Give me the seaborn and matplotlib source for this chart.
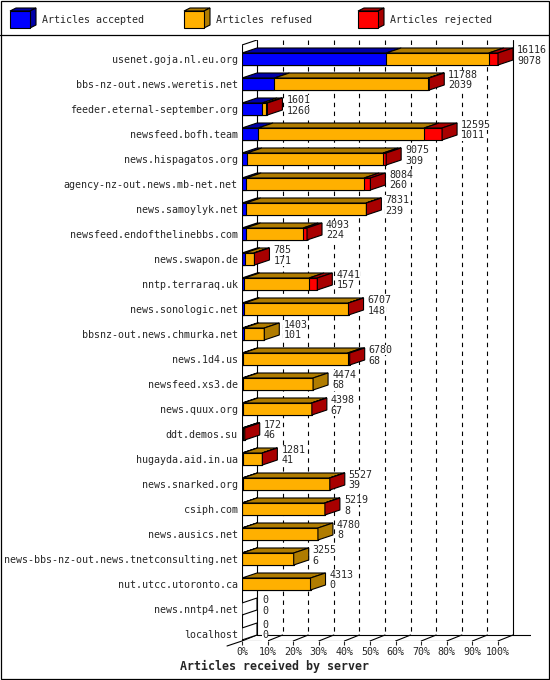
import matplotlib
matplotlib.use("Agg")
import matplotlib.pyplot as plt
from matplotlib.patches import Polygon, Rectangle
import pandas as pd
import seaborn as sns

# servers, top to bottom
servers = [
    "usenet.goja.nl.eu.org", "bbs-nz-out.news.weretis.net", "feeder.eternal-september.org",
    "newsfeed.bofh.team", "news.hispagatos.org", "agency-nz-out.news.mb-net.net",
    "news.samoylyk.net", "newsfeed.endofthelinebbs.com", "news.swapon.de", "nntp.terraraq.uk",
    "news.sonologic.net", "bbsnz-out.news.chmurka.net", "news.1d4.us", "newsfeed.xs3.de",
    "news.quux.org", "ddt.demos.su", "hugayda.aid.in.ua", "news.snarked.org", "csiph.com",
    "news.ausics.net", "news-bbs-nz-out.news.tnetconsulting.net", "nut.utcc.utoronto.ca",
    "news.nntp4.net", "localhost",
]
offered = [16116, 11788, 1601, 12595, 9075, 8084, 7831, 4093, 785, 4741, 6707, 1403,
           6780, 4474, 4398, 172, 1281, 5527, 5219, 4780, 3255, 4313, 0, 0]
accepted = [9078, 2039, 1260, 1011, 309, 260, 239, 224, 171, 157, 148, 101,
            68, 68, 67, 46, 41, 39, 8, 8, 6, 0, 0, 0]
# refused / rejected read off the bar segments (estimates)
refused = [6458, 9689, 278, 10450, 8576, 7424, 7572, 3619, 574, 4064, 6549, 1302,
           6582, 4406, 4311, 116, 1230, 5473, 5196, 4772, 3249, 4313, 0, 0]
rejected = [580, 60, 63, 1134, 190, 400, 20, 250, 40, 520, 10, 0,
            130, 0, 20, 10, 10, 15, 15, 0, 0, 0, 0, 0]

legend_labels = ["Articles accepted", "Articles refused", "Articles rejected"]
front_colors = ["#0000ff", "#ffb000", "#ff0000"]
dark_colors = ["#0000a8", "#b07c00", "#a80000"]

df = pd.DataFrame({"server": servers, "offered": offered, "accepted": accepted,
                   "refused": refused, "rejected": rejected})
scale = 100 / df["offered"].max()
df["acc_pct"] = df["accepted"] * scale
df["ref_pct"] = (df["accepted"] + df["refused"]) * scale
df["tot_pct"] = (df["accepted"] + df["refused"] + df["rejected"]) * scale

sns.set_style("white")
plt.rcParams["font.family"] = ["DejaVu Sans Mono"]
plt.rcParams["font.size"] = 7.2

fig = plt.figure(figsize=(5.5, 6.8), dpi=100)

# frame + legend, drawn in pixel coordinates
bg = fig.add_axes([0, 0, 1, 1])
bg.set_xlim(0, 550)
bg.set_ylim(680, 0)
bg.axis("off")
bg.add_patch(Rectangle((0.5, 0.5), 548.5, 678.5, fill=False, lw=0.9, ec="black"))
bg.plot([0, 550], [34.5, 34.5], color="black", lw=0.9)
for k, x0 in enumerate([10, 184, 358]):
    bg.add_patch(Polygon([(x0, 11), (x0 + 20, 11), (x0 + 26, 8), (x0 + 6, 8)],
                         fc=dark_colors[k], ec="black", lw=0.8))
    bg.add_patch(Polygon([(x0 + 20, 11), (x0 + 26, 8), (x0 + 26, 25), (x0 + 20, 28)],
                         fc=dark_colors[k], ec="black", lw=0.8))
    bg.add_patch(Rectangle((x0, 11), 20, 17, fc=front_colors[k], ec="black", lw=0.8))
    bg.text(x0 + 32, 20, legend_labels[k], va="center", ha="left")

# main axes: 0..100% spans 256 px, one row is 25 px
PX = 2.56
DX = 15 / PX
DY = 0.2
H = 0.48
Y_TOP = -0.76
Y_BACK = 23.04
Y_FRONT = 23.28
X_MAX = 289 / PX

ax = fig.add_axes([242 / 550, 39 / 680, 289 / 550, 601 / 680])
ax.patch.set_alpha(0)

# front faces, stacked by overdrawing cumulative totals
for col, c in [("tot_pct", front_colors[2]), ("ref_pct", front_colors[1]), ("acc_pct", front_colors[0])]:
    sns.barplot(data=df, x=col, y="server", orient="h", color=c, width=H, saturation=1,
                edgecolor="black", linewidth=0.8, errorbar=None, ax=ax, zorder=3)

# 3d top and side faces, plus the two-line value labels
for i, row in df.iterrows():
    yt, yb = i - H / 2, i + H / 2
    bounds = [0, row["acc_pct"], row["ref_pct"], row["tot_pct"]]
    last = None
    for k in range(3):
        x0, x1 = bounds[k], bounds[k + 1]
        if x1 > x0:
            ax.add_patch(Polygon([(x0, yt), (x1, yt), (x1 + DX, yt - DY), (x0 + DX, yt - DY)],
                                 fc=dark_colors[k], ec="black", lw=0.8, zorder=3))
            last = k
    xe = bounds[3]
    ax.add_patch(Polygon([(xe, yt), (xe + DX, yt - DY), (xe + DX, yb - DY), (xe, yb)],
                         fc=dark_colors[last] if last is not None else "white",
                         ec="black", lw=0.8, zorder=3))
    tx = xe + (19 if xe > 0 else 20) / PX
    box = dict(fc="white", ec="none", pad=0)
    ax.text(tx, i - 0.36, str(row["offered"]), va="center", ha="left", bbox=box, zorder=4)
    ax.text(tx, i + 0.06, str(row["accepted"]), va="center", ha="left", bbox=box, zorder=4)

# walls, floor and grid
line = dict(color="black", lw=0.8, zorder=1)
for p in range(10, 100, 10):
    ax.plot([p + DX, p + DX], [Y_TOP, Y_BACK], ls=(0, (4, 4)), color="black", lw=0.8, zorder=1)
ax.plot([DX, DX], [Y_TOP, Y_BACK], **line)
ax.plot([100 + DX, 100 + DX], [Y_TOP, Y_BACK], **line)
ax.plot([0, 0], [Y_TOP + DY, Y_FRONT], **line)
ax.plot([0, DX], [Y_TOP + DY, Y_TOP], **line)
ax.plot([0, 100], [Y_FRONT, Y_FRONT], **line)
ax.plot([DX, X_MAX], [Y_BACK, Y_BACK], **line)
ax.plot([-DX, 0], [Y_FRONT + DY, Y_FRONT], clip_on=False, **line)
for p in range(0, 101, 10):
    ax.plot([p, p + DX], [Y_FRONT, Y_BACK], **line)

ax.set_xlim(0, X_MAX)
ax.set_ylim(Y_FRONT, Y_TOP)
ax.set_xticks(range(0, 101, 10))
ax.set_xticklabels([f"{p}%" for p in range(0, 101, 10)])
ax.tick_params(axis="x", length=3, width=0.8, pad=1.5, direction="out", bottom=True)
ax.tick_params(axis="y", length=0, pad=3)
ax.set_xlabel("")
ax.set_ylabel("")
for s in ax.spines.values():
    s.set_visible(False)

fig.text(274 / 550, 1 - 666 / 680, "Articles received by server", ha="center", va="center",
         weight="bold", size=8.4)

fig.savefig("out.png", dpi=100)
